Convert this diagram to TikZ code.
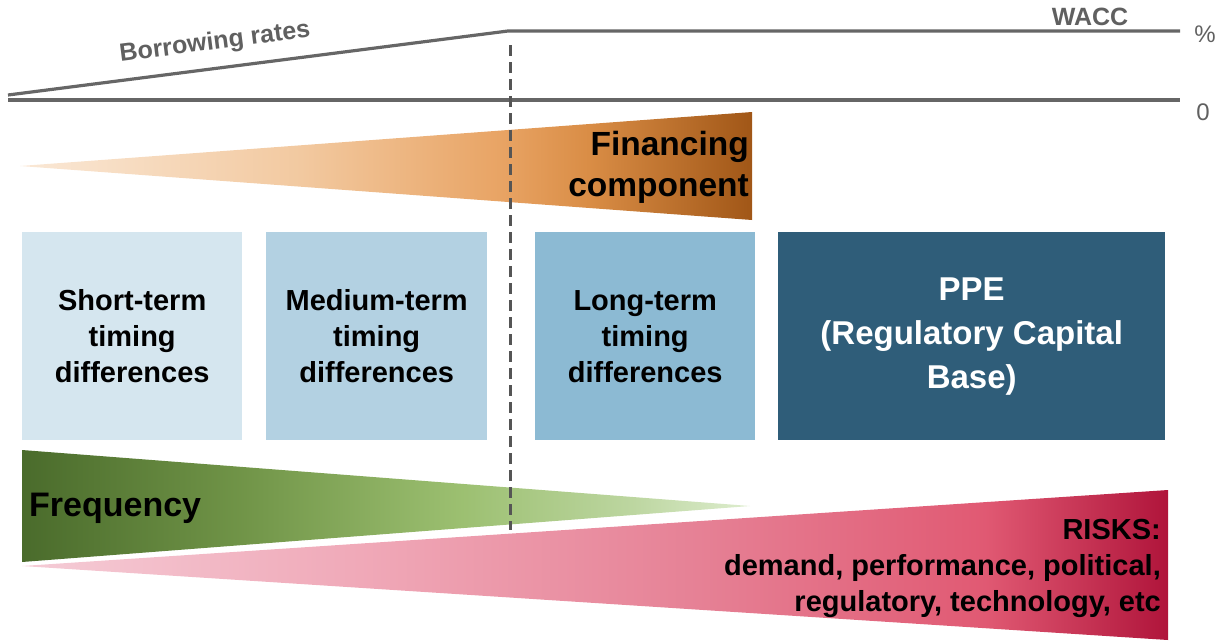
\documentclass[tikz,border=0pt]{standalone}
\usepackage{fontspec}
\setmainfont{Liberation Sans}
\definecolor{linegray}{HTML}{666666}
\definecolor{dashgray}{HTML}{555555}
\definecolor{txtgray}{HTML}{606060}
\definecolor{boxA}{HTML}{D5E6EF}
\definecolor{boxB}{HTML}{B3D1E2}
\definecolor{boxC}{HTML}{8CBAD3}
\definecolor{boxD}{HTML}{2F5D79}
\pgfdeclarehorizontalshading{finshade}{100bp}{rgb(0bp)=(0.98,0.91,0.84); rgb(25bp)=(0.98,0.91,0.84); rgb(44bp)=(0.95,0.79,0.63); rgb(58bp)=(0.91,0.64,0.39); rgb(64bp)=(0.85,0.55,0.27); rgb(75bp)=(0.63,0.34,0.09); rgb(100bp)=(0.63,0.34,0.09)}
\pgfdeclarehorizontalshading{freqshade}{100bp}{rgb(0bp)=(0.29,0.42,0.17); rgb(25bp)=(0.29,0.42,0.17); rgb(40bp)=(0.44,0.58,0.28); rgb(55bp)=(0.61,0.75,0.44); rgb(67bp)=(0.74,0.84,0.63); rgb(75bp)=(0.87,0.93,0.81); rgb(100bp)=(0.87,0.93,0.81)}
\pgfdeclarehorizontalshading{riskshade}{100bp}{rgb(0bp)=(0.96,0.80,0.84); rgb(25bp)=(0.96,0.80,0.84); rgb(40bp)=(0.94,0.66,0.72); rgb(55bp)=(0.90,0.50,0.58); rgb(67bp)=(0.88,0.35,0.45); rgb(75bp)=(0.69,0.08,0.23); rgb(100bp)=(0.69,0.08,0.23)}
\tikzset{
  rate/.style={line width=3.2pt, linegray},
  vdash/.style={line width=3pt, dashgray, dash pattern=on 11pt off 6pt},
  tbox/.style={anchor=north west, inner sep=0pt, align=center, font=\bfseries\fontsize{29}{36}\selectfont},
  axlabel/.style={txtgray, font=\fontsize{24}{28}\selectfont, inner sep=0pt},
  ratelabel/.style={txtgray, font=\bfseries\fontsize{25}{28}\selectfont, inner sep=0pt},
  bigtext/.style={inner sep=0pt, font=\bfseries\fontsize{33.5}{41}\selectfont},
}
\begin{document}
\begin{tikzpicture}[x=1pt,y=-1pt]
\useasboundingbox (0,0) rectangle (1230,643);
% rate lines
\coordinate (b0) at (8,95);
\coordinate (bk) at (508,31);
\coordinate (w1) at (1180,31);
\coordinate (z0) at (8,100);
\coordinate (z1) at (1180,100);
\draw[rate, line join=round] (b0) -- (bk) -- (w1);
\draw[rate] (z0) -- (z1);
\node[ratelabel, rotate=7.3] (borrow) at (215,43) {Borrowing rates};
\node[ratelabel] (wacc) at (1090,17) {WACC};
\node[axlabel] (pct) at (1205,34) {\%};
\node[axlabel] (zero) at (1203,112) {0};
% financing wedge
\shade[shading=finshade] (20,166) -- (752,112) -- (752,220) -- cycle;
% boxes
\node[tbox, fill=boxA, minimum width=220pt, minimum height=208pt] (st) at (22,232) {};
\node[tbox, fill=boxB, minimum width=221pt, minimum height=208pt] (mt) at (266,232) {};
\node[tbox, fill=boxC, minimum width=220pt, minimum height=208pt] (lt) at (535,232) {};
\node[tbox, fill=boxD, minimum width=387pt, minimum height=208pt] (ppe) at (778,232) {};
% frequency and risk wedges
\shade[shading=freqshade] (22,450) -- (750,506) -- (22,562) -- cycle;
\shade[shading=riskshade] (22,566) -- (1168,490) -- (1168,640) -- cycle;
% dashed divider
\coordinate (d0) at (510,45);
\coordinate (d1) at (510,530);
\draw[vdash] (d0) -- (d1);
% texts
\node[bigtext, align=right, anchor=east] (fin) at (749,167) {Financing\\component};
\node[tbox, anchor=center] at (st.center) {Short-term\\timing\\differences};
\node[tbox, anchor=center] at (mt.center) {Medium-term\\timing\\differences};
\node[tbox, anchor=center] at (lt.center) {Long-term\\timing\\differences};
\node[tbox, anchor=center, white, font=\bfseries\fontsize{33}{44}\selectfont] at (ppe.center) {PPE\\(Regulatory Capital\\Base)};
\node[bigtext, anchor=west, font=\bfseries\fontsize{34}{40}\selectfont] (freq) at (29,508) {Frequency};
\node[tbox, align=right, anchor=east] (risk) at (1161,568) {RISKS:\\demand, performance, political,\\regulatory, technology, etc};
\end{tikzpicture}
\end{document}
